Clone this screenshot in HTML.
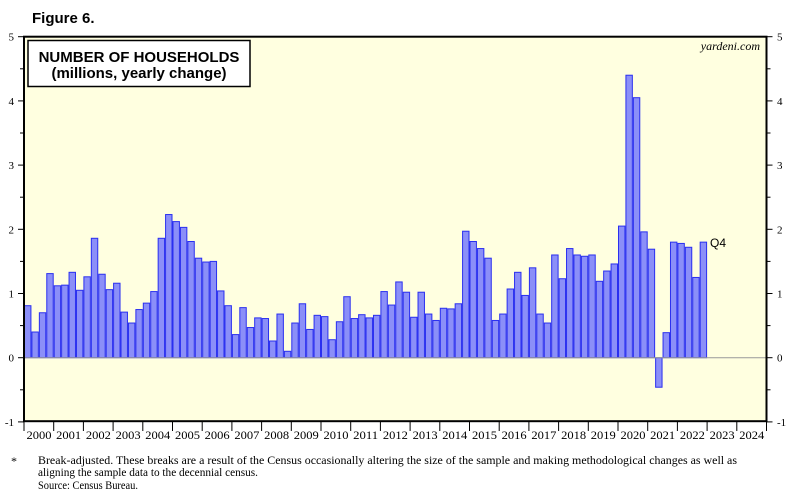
<!DOCTYPE html>
<html><head><meta charset="utf-8"><style>
html,body{margin:0;padding:0;background:#fff;}
svg{display:block;}
</style></head><body>
<svg id="s" width="800" height="500" xmlns="http://www.w3.org/2000/svg" font-family="Liberation Serif, serif">
<rect x="24" y="36.7" width="742.5" height="384.5" fill="#ffffe0"/>
<g id="bars"></g>
<line x1="24" y1="357.7" x2="766.5" y2="357.7" stroke="#999" stroke-width="1"/>
<rect x="24" y="36.7" width="742.5" height="384.5" fill="none" stroke="#000" stroke-width="2"/>
<g id="ticks" stroke="#000" stroke-width="1"></g>
<g id="labels" font-size="11" fill="#000"></g>
<text x="32" y="23" font-family="Liberation Sans, sans-serif" font-weight="bold" font-size="15">Figure 6.</text>
<rect x="28" y="40.5" width="222" height="46" fill="#fff" stroke="#000" stroke-width="1.5"/>
<text x="139" y="62" text-anchor="middle" font-family="Liberation Sans, sans-serif" font-weight="bold" font-size="15">NUMBER OF HOUSEHOLDS</text>
<text x="139" y="78" text-anchor="middle" font-family="Liberation Sans, sans-serif" font-weight="bold" font-size="15">(millions, yearly change)</text>
<text x="760" y="50" text-anchor="end" font-style="italic" font-size="12">yardeni.com</text>
<text x="710" y="247" font-family="Liberation Sans, sans-serif" font-size="12">Q4</text>
<text x="11" y="465" font-size="12">*</text>
<text x="38" y="464" font-size="12" textLength="699" lengthAdjust="spacingAndGlyphs">Break-adjusted. These breaks are a result of the Census occasionally altering the size of the sample and making methodological changes as well as</text>
<text x="38" y="476" font-size="12" textLength="220" lengthAdjust="spacingAndGlyphs">aligning the sample data to the decennial census.</text>
<text x="38" y="489" font-size="12" textLength="100" lengthAdjust="spacingAndGlyphs">Source: Census Bureau.</text>
</svg>
<script>
var v=[0.81,0.40,0.70,1.31,1.12,1.13,1.33,1.05,1.26,1.86,1.30,1.06,1.16,0.71,0.54,0.75,0.85,1.03,1.86,2.23,2.12,2.03,1.81,1.55,1.49,1.50,1.04,0.81,0.36,0.78,0.47,0.62,0.61,0.26,0.68,0.10,0.54,0.84,0.44,0.66,0.64,0.28,0.56,0.95,0.61,0.67,0.62,0.66,1.03,0.82,1.18,1.02,0.63,1.02,0.68,0.58,0.77,0.76,0.84,1.97,1.81,1.70,1.55,0.58,0.68,1.07,1.33,0.97,1.40,0.68,0.54,1.60,1.23,1.70,1.60,1.58,1.60,1.19,1.35,1.46,2.05,4.40,4.05,1.96,1.69,-0.46,0.39,1.80,1.78,1.72,1.25,1.80];
var NS="http://www.w3.org/2000/svg",x0=24,yw=29.7,qw=yw/4,y0=357.7,u=64.2;
function el(p,t,a,txt){var e=document.createElementNS(NS,t);for(var k in a)e.setAttribute(k,a[k]);if(txt!=null)e.textContent=txt;document.getElementById(p).appendChild(e);}
v.forEach(function(d,i){var x=x0+i*qw,h=Math.abs(d)*u,y=d>=0?y0-h:y0;
el("bars","rect",{x:x+0.5,y:y,width:qw-1,height:h,fill:"#8b8ff8",stroke:"#2a2ff0","stroke-width":1});});
for(var k=-1;k<=5;k++){var y=y0-k*u;
el("ticks","line",{x1:18,y1:y,x2:24,y2:y});el("ticks","line",{x1:766.5,y1:y,x2:772.5,y2:y});
el("labels","text",{x:14,y:y+4,"text-anchor":"end"},String(k));
el("labels","text",{x:777,y:y+4},String(k));
if(k<5){var ym=y-u/2;el("ticks","line",{x1:20,y1:ym,x2:24,y2:ym});el("ticks","line",{x1:766.5,y1:ym,x2:770.5,y2:ym});}}
for(var j=0;j<=25;j++){var x=x0+j*yw;el("ticks","line",{x1:x,y1:421,x2:x,y2:431});
if(j<25)el("labels","text",{x:x+2.5,y:439,"font-size":"12","textLength":25,"lengthAdjust":"spacingAndGlyphs"},String(2000+j));}
</script>
</body></html>
